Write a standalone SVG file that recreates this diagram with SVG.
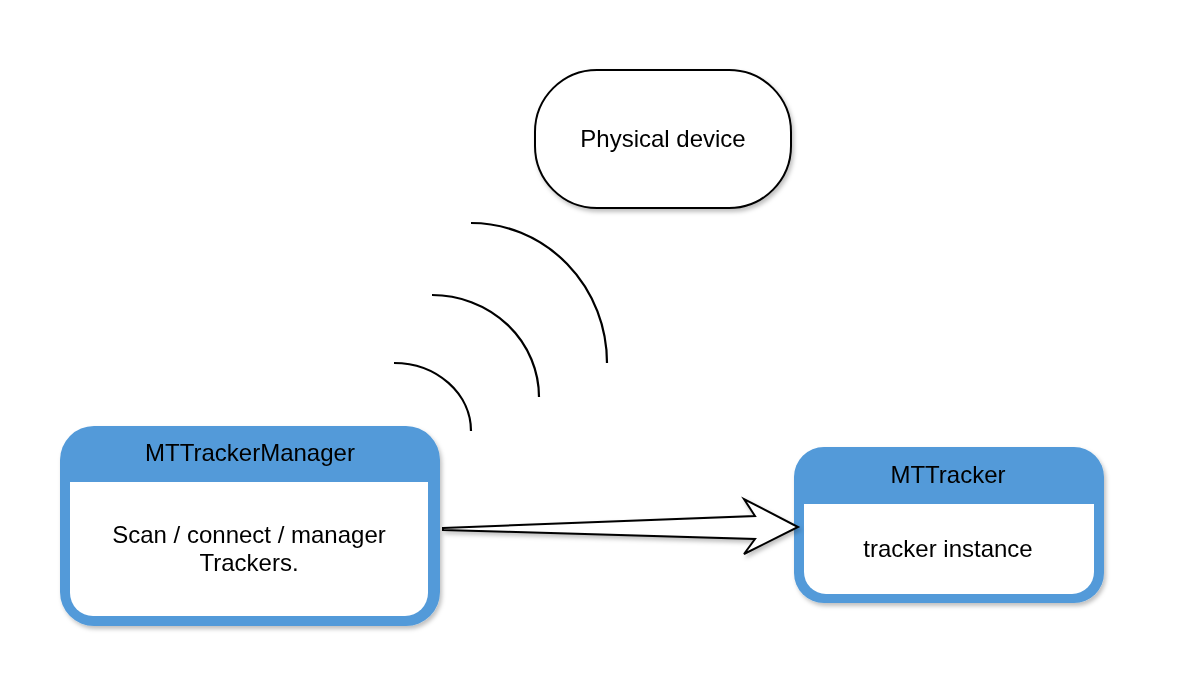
<svg xmlns="http://www.w3.org/2000/svg" width="1180" height="684" viewBox="0 0 1180 684">
  <defs>
    <filter id="shadow" x="-10%" y="-10%" width="130%" height="130%">
      <feDropShadow dx="2" dy="3" stdDeviation="2" flood-color="#000" flood-opacity="0.25"/>
    </filter>
    <style>
      text { font-family: "Liberation Sans", Arial, Helvetica, sans-serif; font-size: 24px; fill: #000; text-anchor: middle; }
      .blue { fill: #529AD9; }
      .white { fill: #FFFFFF; }
      .wave { fill: none; stroke: #000; stroke-width: 2.2; stroke-linecap: butt; }
    </style>
  </defs>
  <rect width="1180" height="684" fill="#FFFFFF"/>

  <g id="physical-device" filter="url(#shadow)">
    <rect x="535" y="70" width="256" height="138" rx="62" ry="62" fill="#FFFFFF" stroke="#000" stroke-width="2"/>
    <text x="663" y="147">Physical device</text>
  </g>

  <g id="signal">
    <path class="wave" d="M394,363 A77,68 0 0 1 471,431"/>
    <path class="wave" d="M432,295 A107,102 0 0 1 539,397"/>
    <path class="wave" d="M471,223 A136,140 0 0 1 607,363"/>
  </g>

  <g id="mttrackermanager" filter="url(#shadow)">
    <rect class="blue" x="60" y="426" width="380" height="200" rx="34" ry="34"/>
    <path class="white" d="M70,482 H428 V593 A23,23 0 0 1 405,616 H93 A23,23 0 0 1 70,593 Z"/>
    <text x="250" y="461">MTTrackerManager</text>
    <text x="249" y="543">Scan / connect / manager</text>
    <text x="249" y="571">Trackers.</text>
  </g>

  <g id="mttracker" filter="url(#shadow)">
    <rect class="blue" x="794" y="447" width="310" height="156" rx="30" ry="30"/>
    <path class="white" d="M804,504 H1094 V572 A22,22 0 0 1 1072,594 H826 A22,22 0 0 1 804,572 Z"/>
    <text x="948" y="483">MTTracker</text>
    <text x="948" y="557">tracker instance</text>
  </g>

  <g id="connectors" filter="url(#shadow)">
    <path d="M443,528 L755,516 L744,499 L798,527 L744,554 L755,539 L443,530 Z" fill="#FFFFFF" stroke="#000" stroke-width="2" stroke-linejoin="miter"/>
  </g>
</svg>
